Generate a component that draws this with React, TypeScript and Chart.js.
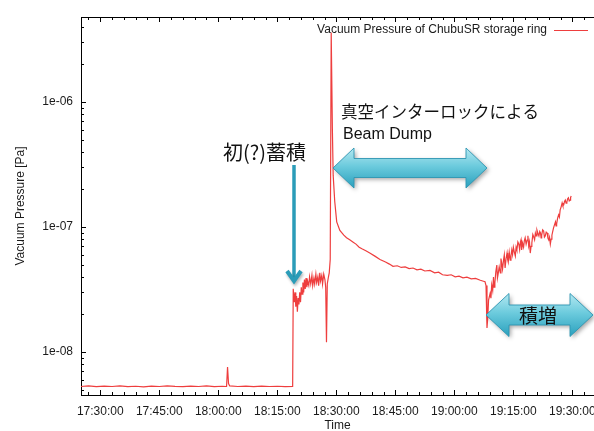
import React, { useEffect, useRef } from "react";
import { Chart, registerables } from "chart.js";

Chart.register(...registerables);

// ---- data (time in minutes after 17:30:00, pressure in Pa) ----
const timeMinutes = [
  -4.9, -3, -1, 1, 3, 5, 7, 9, 11, 13, 15, 17, 19, 21, 23, 25, 27, 29, 31, 32.1,
  32.35, 32.6, 32.9, 35, 37, 39, 41, 43, 45, 47, 48.9,
  49.05, 49.3, 49.5, 49.7, 49.9, 50.1, 50.3, 50.5, 50.7, 50.9, 51.1, 51.3, 51.5, 51.7,
  51.9, 52.1, 52.3, 52.5, 52.7, 53.0, 53.2, 53.5, 53.8, 54.0, 54.3, 54.5, 54.8, 55.0,
  55.3, 55.5, 55.8, 56.0, 56.3, 56.5, 56.8, 57.1, 57.3, 57.5, 57.7, 58.0, 58.2, 58.45,
  58.7, 59.0, 59.2, 59.6, 60.1, 60.9, 61.9, 62.6, 63.4, 64.2, 65.0, 65.8, 66.5, 67.5,
  68.5, 69.8, 71.1, 72.5, 73.5, 74.4, 75.5, 76.5, 77.5, 78.5, 79.5, 80.5, 81.5, 82.5,
  83.8, 85.0, 86.0, 87.0, 88.2, 89.2, 90.2, 91.2, 92.2, 93.2, 94.3, 95.4, 96.6, 97.2,
  97.8, 98.05, 98.3, 98.5, 98.7,
  99.1, 99.3, 99.5, 99.75, 99.95, 100.1, 100.3, 100.55, 100.8, 100.95, 101.1, 101.4,
  101.7, 101.85, 102.0, 102.25, 102.5, 102.7, 102.9, 103.15, 103.4, 103.55, 103.7,
  103.95, 104.2, 104.4, 104.6, 104.8, 105.0, 105.25, 105.5, 105.7, 105.9, 106.15,
  106.4, 106.6, 106.8, 106.95, 107.1, 107.35, 107.6, 107.8, 108.0, 108.25, 108.5,
  108.7, 108.9, 109.1, 109.3, 109.5, 109.7, 109.95, 110.2, 110.4, 110.6, 110.8, 111.0,
  111.25, 111.5, 111.7, 111.9, 112.05, 112.2, 112.45, 112.7, 112.9, 113.1, 113.35,
  113.6, 113.8, 114.0, 114.2, 114.4, 114.6, 114.8, 115.0, 115.2, 115.45, 115.7, 115.85,
  116.0, 116.25, 116.5, 116.7, 116.9, 117.15, 117.4, 117.6, 117.8, 118.0, 118.2, 118.4,
  118.6, 118.8, 119.0, 119.2, 119.4, 119.55, 119.7,
];

const pressurePa = [
  5.3e-9, 5.35e-9, 5.28e-9, 5.33e-9, 5.3e-9, 5.36e-9, 5.29e-9, 5.32e-9, 5.27e-9, 5.34e-9,
  5.3e-9, 5.36e-9, 5.31e-9, 5.28e-9, 5.33e-9, 5.3e-9, 5.35e-9, 5.29e-9, 5.32e-9, 5.3e-9,
  7.6e-9, 5.6e-9, 5.35e-9, 5.3e-9, 5.33e-9, 5.28e-9, 5.34e-9, 5.3e-9, 5.32e-9, 5.29e-9, 5.31e-9,
  3.2e-8, 2.5e-8, 3.0e-8, 2.3e-8, 2.8e-8, 2.1e-8, 2.7e-8, 2.4e-8, 3.0e-8, 2.5e-8, 3.3e-8,
  2.9e-8, 3.6e-8, 3.0e-8, 3.8e-8, 3.2e-8, 3.9e-8, 3.3e-8, 3.7e-8, 3.4e-8, 4.0e-8, 3.5e-8,
  4.1e-8, 3.4e-8, 3.9e-8, 3.5e-8, 4.2e-8, 3.6e-8, 4.0e-8, 3.4e-8, 4.3e-8, 3.7e-8, 4.1e-8,
  3.5e-8, 4.2e-8, 3.8e-8, 3.3e-8, 1.2e-8, 3.5e-8, 4.0e-8, 4.3e-8, 5.5e-8,
  3.6e-6, 6.0e-7, 2.6e-7, 1.6e-7, 1.1e-7, 9.4e-8, 8.6e-8, 8.2e-8, 7.9e-8, 7.6e-8, 7.3e-8,
  6.9e-8, 6.7e-8, 6.45e-8, 6.2e-8, 5.85e-8, 5.5e-8, 5.25e-8, 5.05e-8, 4.85e-8, 4.9e-8,
  4.75e-8, 4.8e-8, 4.65e-8, 4.7e-8, 4.55e-8, 4.6e-8, 4.45e-8, 4.5e-8, 4.3e-8, 4.35e-8,
  4.15e-8, 4.1e-8, 4.15e-8, 4.0e-8, 4.05e-8, 3.92e-8, 3.97e-8, 3.85e-8, 3.88e-8, 3.75e-8,
  3.7e-8, 3.65e-8, 3.4e-8, 1.56e-8, 1.9e-8, 2.6e-8,
  2.95e-8, 2.7e-8, 3.44e-8, 3.1e-8, 3.98e-8, 3.3e-8, 3.57e-8, 4.4e-8, 4.97e-8, 3.9e-8,
  4.14e-8, 4.8e-8, 4.29e-8, 5.6e-8, 5.24e-8, 4.6e-8, 5.44e-8, 6.0e-8, 4.7e-8, 5.6e-8,
  6.19e-8, 5.5e-8, 5.24e-8, 6.3e-8, 5.44e-8, 5.9e-8, 6.55e-8, 6.0e-8, 6.9e-8, 6.3e-8,
  5.86e-8, 6.9e-8, 6.55e-8, 7.6e-8, 7.3e-8, 6.6e-8, 7.6e-8, 7.9e-8, 6.55e-8, 7.4e-8,
  6.9e-8, 7.8e-8, 8.2e-8, 7.3e-8, 7.87e-8, 8.5e-8, 7.05e-8, 7.6e-8, 6.19e-8, 7.0e-8,
  7.45e-8, 8.7e-8, 8.3e-8, 7.9e-8, 8.95e-8, 8.5e-8, 9.46e-8, 8.9e-8, 8.47e-8, 9.2e-8,
  8.95e-8, 8.2e-8, 8.6e-8, 9.5e-8, 9.3e-8, 8.3e-8, 8.47e-8, 9.1e-8, 8.95e-8, 8.1e-8,
  7.87e-8, 8.3e-8, 7.3e-8, 8.0e-8, 8.6e-8, 9.2e-8, 9.8e-8, 1.04e-7, 1.1e-7, 1.02e-7,
  1.06e-7, 1.18e-7, 1.25e-7, 1.2e-7, 1.37e-7, 1.45e-7, 1.56e-7, 1.48e-7, 1.5e-7, 1.6e-7,
  1.64e-7, 1.55e-7, 1.58e-7, 1.68e-7, 1.71e-7, 1.62e-7, 1.64e-7, 1.72e-7, 1.77e-7,
];

const xTickMinutes = [0, 15, 30, 45, 60, 75, 90, 105, 120];
const xTickLabels = [
  "17:30:00", "17:45:00", "18:00:00", "18:15:00", "18:30:00",
  "18:45:00", "19:00:00", "19:15:00", "19:30:00",
];
const yTickValues = [1e-8, 1e-7, 1e-6];
const yTickLabels = ["1e-08", "1e-07", "1e-06"];

const seriesLabel = "Vacuum Pressure of ChubuSR storage ring";
const xTitle = "Time";
const yTitle = "Vacuum Pressure [Pa]";
const noteFirst = "初(?)蓄積";
const noteDump1 = "真空インターロックによる";
const noteDump2 = "Beam Dump";
const noteIncrease = "積増";

// ---- styling ----
const X_MIN = -4.9;
const X_MAX = 125.5;
const Y_MIN = 4.53e-9;
const Y_MAX = 4.79e-6;
const LINE_COLOR = "#ee3e3e";
const TEXT_COLOR = "#1a1a1a";
const FONT_FAMILY = "'Liberation Sans', Arial, Helvetica, sans-serif";
const JP_FONT = "'Noto Sans CJK JP', 'Noto Sans CJK SC', sans-serif";

function blockArrow(
  ctx: CanvasRenderingContext2D,
  x1: number, x2: number, cy: number,
  headH: number, shaftH: number, headL: number
) {
  ctx.beginPath();
  ctx.moveTo(x1, cy);
  ctx.lineTo(x1 + headL, cy - headH / 2);
  ctx.lineTo(x1 + headL, cy - shaftH / 2);
  ctx.lineTo(x2 - headL, cy - shaftH / 2);
  ctx.lineTo(x2 - headL, cy - headH / 2);
  ctx.lineTo(x2, cy);
  ctx.lineTo(x2 - headL, cy + headH / 2);
  ctx.lineTo(x2 - headL, cy + shaftH / 2);
  ctx.lineTo(x1 + headL, cy + shaftH / 2);
  ctx.lineTo(x1 + headL, cy + headH / 2);
  ctx.closePath();
  const g = ctx.createLinearGradient(0, cy - headH / 2, 0, cy + headH / 2);
  g.addColorStop(0, "#b4e8f1");
  g.addColorStop(0.45, "#6ccbdd");
  g.addColorStop(1, "#2aa0bd");
  ctx.save();
  ctx.shadowColor = "rgba(0,0,0,0.35)";
  ctx.shadowBlur = 4;
  ctx.shadowOffsetX = 2;
  ctx.shadowOffsetY = 2;
  ctx.fillStyle = g;
  ctx.fill();
  ctx.restore();
  ctx.strokeStyle = "rgba(45,150,178,0.9)";
  ctx.lineWidth = 1;
  ctx.stroke();
}

const framePlugin = {
  id: "gnuplotFrame",
  afterDraw(chart: any) {
    const ctx: CanvasRenderingContext2D = chart.ctx;
    const { left, right, top, bottom } = chart.chartArea;
    const xs = chart.scales.x;
    const ys = chart.scales.y;
    ctx.save();
    ctx.strokeStyle = "#000";
    ctx.lineWidth = 1;
    // top frame line
    ctx.beginPath();
    ctx.moveTo(left, top + 0.5);
    ctx.lineTo(right, top + 0.5);
    ctx.stroke();
    // x ticks (inward, bottom & top), minor every 3 minutes
    ctx.beginPath();
    for (let m = Math.ceil(X_MIN / 3) * 3; m <= X_MAX; m += 3) {
      const px = Math.round(xs.getPixelForValue(m)) + 0.5;
      const len = m % 15 === 0 ? 5 : 3;
      ctx.moveTo(px, bottom);
      ctx.lineTo(px, bottom - len);
      ctx.moveTo(px, top);
      ctx.lineTo(px, top + len);
    }
    // y ticks (inward, left)
    for (let d = -9; d <= -5; d++) {
      for (let k = 1; k <= 9; k++) {
        const v = k * Math.pow(10, d);
        if (v < Y_MIN || v > Y_MAX) continue;
        const py = Math.round(ys.getPixelForValue(v)) + 0.5;
        const len = k === 1 ? 5 : 3;
        ctx.moveTo(left, py);
        ctx.lineTo(left + len, py);
      }
    }
    ctx.stroke();

    // legend (gnuplot style key, top right)
    ctx.font = `12px ${FONT_FAMILY}`;
    ctx.fillStyle = TEXT_COLOR;
    ctx.textAlign = "right";
    ctx.textBaseline = "middle";
    ctx.fillText(seriesLabel, 547, 30);
    ctx.strokeStyle = LINE_COLOR;
    ctx.beginPath();
    ctx.moveTo(554, 30.5);
    ctx.lineTo(588, 30.5);
    ctx.stroke();

    // ---- slide annotations ----
    // vertical arrow
    ctx.strokeStyle = "#2b9cb8";
    ctx.lineWidth = 3.5;
    ctx.lineCap = "butt";
    ctx.beginPath();
    ctx.moveTo(294, 165);
    ctx.lineTo(294, 280);
    ctx.stroke();
    ctx.save();
    ctx.shadowColor = "rgba(0,0,0,0.3)";
    ctx.shadowBlur = 3;
    ctx.shadowOffsetX = 1;
    ctx.shadowOffsetY = 2;
    ctx.lineWidth = 4;
    ctx.lineJoin = "miter";
    ctx.beginPath();
    ctx.moveTo(287, 271);
    ctx.lineTo(294, 281);
    ctx.lineTo(301, 271);
    ctx.stroke();
    ctx.restore();

    blockArrow(ctx, 333, 487, 168, 40, 19, 21);
    blockArrow(ctx, 486, 593, 315, 43, 20, 23);

    ctx.fillStyle = "#111";
    ctx.textAlign = "left";
    ctx.textBaseline = "middle";
    ctx.font = `20px ${JP_FONT}`;
    ctx.fillText(noteFirst, 223, 152);
    ctx.font = `16.5px ${JP_FONT}`;
    ctx.fillText(noteDump1, 341, 112);
    ctx.font = `16px ${FONT_FAMILY}`;
    ctx.fillText(noteDump2, 343, 135);
    ctx.textAlign = "center";
    ctx.font = `19px ${JP_FONT}`;
    ctx.fillText(noteIncrease, 538, 316);
    ctx.restore();
  },
};

export default function App() {
  const ref = useRef<HTMLCanvasElement>(null);
  useEffect(() => {
    const canvas = ref.current;
    if (!canvas) return;
    const data = timeMinutes.map((t, i) => ({ x: t, y: pressurePa[i] }));
    const font = { family: FONT_FAMILY, size: 12 };
    const chart = new Chart(canvas, {
      type: "line",
      data: {
        datasets: [
          {
            label: seriesLabel,
            data,
            borderColor: LINE_COLOR,
            borderWidth: 1.2,
            pointRadius: 0,
            tension: 0,
            fill: false,
          },
        ],
      },
      options: {
        animation: false,
        responsive: false,
        devicePixelRatio: 1,
        layout: { padding: { top: 17, right: 0, bottom: 0, left: 0 } },
        plugins: { legend: { display: false }, tooltip: { enabled: false } },
        scales: {
          x: {
            type: "linear",
            position: "bottom",
            min: X_MIN,
            max: X_MAX,
            afterBuildTicks: (s: any) => {
              s.ticks = xTickMinutes.map((v) => ({ value: v }));
            },
            afterFit: (s: any) => {
              s.height = 36;
              s.paddingLeft = 0;
              s.paddingRight = 0;
            },
            ticks: {
              autoSkip: false,
              maxRotation: 0,
              minRotation: 0,
              padding: 9,
              color: TEXT_COLOR,
              font,
              callback: (_v: any, i: number) => xTickLabels[i],
            },
            grid: { display: false, drawTicks: false },
            border: { display: true, color: "#000", width: 1 },
            title: {
              display: true,
              text: xTitle,
              color: TEXT_COLOR,
              font,
              padding: { top: 0, bottom: -2 },
            },
          },
          y: {
            type: "logarithmic",
            min: Y_MIN,
            max: Y_MAX,
            afterBuildTicks: (s: any) => {
              s.ticks = yTickValues.map((v) => ({ value: v }));
            },
            afterFit: (s: any) => {
              s.width = 81;
              s.paddingTop = 0;
              s.paddingBottom = 0;
            },
            ticks: {
              autoSkip: false,
              padding: 8,
              color: TEXT_COLOR,
              font,
              callback: (_v: any, i: number) => yTickLabels[i],
            },
            grid: { display: false, drawTicks: false },
            border: { display: true, color: "#000", width: 1 },
            title: {
              display: true,
              text: yTitle,
              color: TEXT_COLOR,
              font,
              padding: { top: 13, bottom: 0 },
            },
          },
        },
      },
      plugins: [framePlugin],
    } as any);
    return () => chart.destroy();
  }, []);
  return (
    <div style={{ position: "fixed", left: 0, top: 0, width: 594, height: 431, background: "#fff" }}>
      <canvas ref={ref} width={594} height={431} style={{ display: "block", width: 594, height: 431 }} />
    </div>
  );
}
